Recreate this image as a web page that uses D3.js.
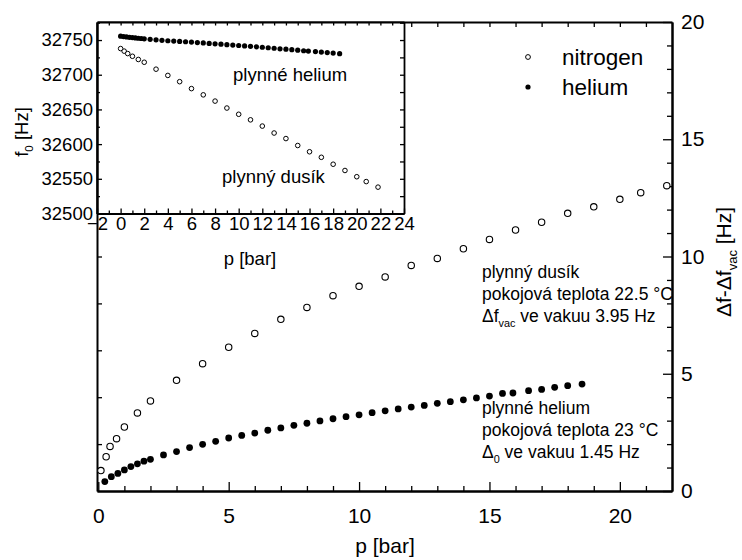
<!DOCTYPE html>
<html><head><meta charset="utf-8">
<script src="https://cdn.jsdelivr.net/npm/d3@7"></script>
<style>body{margin:0;background:#fff}svg{display:block}text{font-family:"Liberation Sans",Arial,sans-serif;fill:#000}</style>
</head><body>
<script>
// ---- data ----
const nitrogenP = [0.1,0.3,0.45,0.7,1,1.5,2,3,4,5,6,7,8,9,10,11,12,13,14,15,16,17,18,19,20,20.8,21.8];
const nitrogenDf = [0.87,1.46,1.9,2.23,2.73,3.33,3.84,4.72,5.43,6.13,6.72,7.32,7.83,8.33,8.73,9.13,9.62,9.92,10.33,10.73,11.13,11.46,11.84,12.12,12.44,12.72,13.02];
const heliumP = [0.25,0.5,0.75,1,1.25,1.5,1.75,2,2.5,3,3.5,4,4.5,5,5.5,6,6.5,7,7.5,8,8.5,9,9.5,10,10.5,11,11.5,12,12.5,13,13.5,14,14.5,15,15.5,15.9,16.5,17,17.5,18,18.55];
const heliumDf = [0.40,0.61,0.75,0.90,1.04,1.16,1.27,1.35,1.54,1.68,1.85,1.99,2.12,2.26,2.37,2.47,2.59,2.69,2.80,2.89,2.99,3.08,3.17,3.25,3.34,3.42,3.50,3.58,3.65,3.74,3.81,3.89,3.97,4.05,4.16,4.18,4.28,4.33,4.42,4.49,4.56];

const insetNitrogenP = [0,0.3,0.6,1,1.5,2,3,4,5,6,7,8,9,10,11,12,13,14,15,16,17,18,19,20,20.8,21.8];
const insetNitrogenF = [32737.7,32734,32730.5,32726.6,32722,32718,32708,32699,32690,32680,32671,32662,32652,32643,32635,32626,32616,32608,32598,32589,32581,32571,32562,32553,32546,32538];
const insetHeliumP = [0,0.25,0.5,0.75,1,1.25,1.5,1.75,2,2.5,3,3.5,4,4.5,5,5.5,6,6.5,7,7.5,8,8.5,9,9.5,10,10.5,11,11.5,12,12.5,13,13.5,14,14.5,15,15.5,15.9,16.5,17,17.5,18,18.55];
const insetHeliumF = [32755.6,32755.0,32754.5,32753.9,32753.5,32753.0,32752.6,32752.2,32751.8,32751.1,32750.3,32749.6,32749.0,32748.5,32748.0,32747.5,32747.0,32746.3,32745.8,32745.1,32744.6,32744.0,32743.3,32742.7,32742.1,32741.5,32740.9,32740.2,32739.6,32738.9,32738.2,32737.4,32736.8,32736.1,32735.4,32734.6,32734.1,32733.4,32732.6,32731.9,32731.2,32730.4];

const mainXTicks = [0,5,10,15,20];
const mainYTicks = [0,5,10,15,20];
const insetXTicks = [-2,0,2,4,6,8,10,12,14,16,18,20,22,24];
const insetYTicks = [32500,32550,32600,32650,32700,32750];
const legendLabels = ["nitrogen","helium"];

// ---- layout ----
const W = 742, H = 560;
const svg = d3.select("body").append("svg").attr("width", W).attr("height", H);
svg.append("rect").attr("width", W).attr("height", H).attr("fill", "#fff");

const M = {l:97, r:672, t:22, b:491};
const x = d3.scaleLinear().domain([-0.05, 22]).range([M.l, M.r]);
const y = d3.scaleLinear().domain([0, 20]).range([M.b, M.t]);

function styleAxis(g, w){
  g.select(".domain").attr("stroke","#000").attr("stroke-width", w);
  g.selectAll(".tick line").attr("stroke","#000").attr("stroke-width", 1.3);
}
const d3range = (a,b,s)=>d3.range(a,b+1e-9,s);

// main axes: minor ticks
const gm = svg.append("g");
gm.append("g").attr("transform",`translate(0,${M.b})`)
  .call(d3.axisBottom(x).tickValues(d3range(1,21,1).filter(v=>v%5)).tickSizeInner(-5).tickSizeOuter(0).tickFormat(""))
  .call(g=>styleAxis(g,2));
gm.append("g").attr("transform",`translate(0,${M.t})`)
  .call(d3.axisTop(x).tickValues(d3range(1,21,1)).tickSizeInner(-5).tickSizeOuter(0).tickFormat(""))
  .call(g=>styleAxis(g,2));
gm.append("g").attr("transform",`translate(${M.r},0)`)
  .call(d3.axisRight(y).tickValues(d3range(1,19,1).filter(v=>v%5)).tickSizeInner(-5).tickSizeOuter(0).tickFormat(""))
  .call(g=>styleAxis(g,2));
gm.append("g").attr("transform",`translate(${M.l},0)`)
  .call(d3.axisLeft(y).tickValues(d3range(2,18,2)).tickSizeInner(-5).tickSizeOuter(0).tickFormat(""))
  .call(g=>styleAxis(g,2));
// main axes: major ticks + labels
const xAx = gm.append("g").attr("transform",`translate(0,${M.b})`)
  .call(d3.axisBottom(x).tickValues(mainXTicks).tickSizeInner(-9).tickSizeOuter(0).tickPadding(17).tickFormat(d3.format("d")))
  .call(g=>styleAxis(g,2));
xAx.selectAll("text").attr("font-size",21).attr("dy","0.71em");
const yAx = gm.append("g").attr("transform",`translate(${M.r},0)`)
  .call(d3.axisRight(y).tickValues(mainYTicks).tickSizeInner(-9).tickSizeOuter(0).tickPadding(9).tickFormat(d3.format("d")))
  .call(g=>styleAxis(g,2));
yAx.selectAll("text").attr("font-size",21);
svg.selectAll(".domain").attr("fill","none");

// main labels
svg.append("text").attr("x",385).attr("y",553).attr("text-anchor","middle").attr("font-size",21).text("p [bar]");
const rl = svg.append("text").attr("transform","translate(731,262) rotate(-90)").attr("text-anchor","middle").attr("font-size",21);
rl.append("tspan").text("\u0394f-\u0394f");
rl.append("tspan").attr("font-size",13).attr("dy",6).text("vac");
rl.append("tspan").attr("dy",-6).text(" [Hz]");

// main data
svg.append("g").selectAll("circle").data(nitrogenP).join("circle")
  .attr("cx",(d)=>x(d)).attr("cy",(d,i)=>y(nitrogenDf[i])).attr("r",3.2)
  .attr("fill","#fff").attr("stroke","#000").attr("stroke-width",1.1);
svg.append("g").selectAll("circle").data(heliumP).join("circle")
  .attr("cx",(d)=>x(d)).attr("cy",(d,i)=>y(heliumDf[i])).attr("r",3.4).attr("fill","#000");

// legend
const lg = svg.append("g");
lg.append("circle").attr("cx",528).attr("cy",57).attr("r",2.4).attr("fill","#fff").attr("stroke","#000").attr("stroke-width",1);
lg.append("circle").attr("cx",528).attr("cy",87).attr("r",2.6).attr("fill","#000");
lg.append("text").attr("x",562).attr("y",65).attr("font-size",22.5).text(legendLabels[0]);
lg.append("text").attr("x",562).attr("y",95).attr("font-size",22.5).text(legendLabels[1]);

// main annotations
function annot(lines, x0, ys, fs){
  lines.forEach((ln,i)=>{
    const t = svg.append("text").attr("x",x0).attr("y",ys[i]).attr("font-size",fs);
    ln.forEach(part=>{
      const s = t.append("tspan").text(part.t);
      if(part.sub){ s.attr("font-size",fs*0.62).attr("dy",5); }
      else if(part.after){ s.attr("dy",-5); }
    });
  });
}
annot([[{t:"plynný dusík"}],[{t:"pokojová teplota 22.5 °C"}],[{t:"\u0394f"},{t:"vac",sub:true},{t:" ve vakuu 3.95 Hz",after:true}]], 482, [278,300,322], 17.5);
annot([[{t:"plynné helium"}],[{t:"pokojová teplota 23 °C"}],[{t:"\u0394"},{t:"0",sub:true},{t:" ve vakuu 1.45 Hz",after:true}]], 482, [414,436,458], 17.5);

// ---- inset ----
const I = {l:97, r:404, t:22, b:213.5};
const xi = d3.scaleLinear().domain([-2, 24]).range([I.l, I.r]);
const yi = d3.scaleLinear().domain([32500, 32776]).range([I.b, I.t]);
svg.append("rect").attr("x",I.l).attr("y",I.t).attr("width",I.r-I.l).attr("height",I.b-I.t).attr("fill","#fff");
const gi = svg.append("g");
gi.append("g").attr("transform",`translate(0,${I.b})`)
  .call(d3.axisBottom(xi).tickValues(d3range(-1,23,2)).tickSizeInner(-3).tickSizeOuter(0).tickFormat(""))
  .call(g=>styleAxis(g,1.8));
gi.append("g").attr("transform",`translate(0,${I.t})`)
  .call(d3.axisTop(xi).tickValues(d3range(-1,23,1)).tickSizeInner(-3.5).tickSizeOuter(0).tickFormat(""))
  .call(g=>styleAxis(g,2));
gi.append("g").attr("transform",`translate(${I.r},0)`)
  .call(d3.axisRight(yi).tickValues(d3range(32525,32775,25)).tickSizeInner(-4).tickSizeOuter(0).tickFormat(""))
  .call(g=>styleAxis(g,1.8));
gi.append("g").attr("transform",`translate(${I.l},0)`)
  .call(d3.axisLeft(yi).tickValues(d3range(32525,32775,50)).tickSizeInner(-3).tickSizeOuter(0).tickFormat(""))
  .call(g=>styleAxis(g,2));
const xiAx = gi.append("g").attr("transform",`translate(0,${I.b})`)
  .call(d3.axisBottom(xi).tickValues(insetXTicks).tickSizeInner(-5).tickSizeOuter(0).tickPadding(3).tickFormat(d3.format("d")))
  .call(g=>styleAxis(g,1.8));
xiAx.selectAll("text").attr("font-size",18.5).attr("dy","0.71em");
const yiAx = gi.append("g").attr("transform",`translate(${I.l},0)`)
  .call(d3.axisLeft(yi).tickValues(insetYTicks).tickSizeInner(-5).tickSizeOuter(0).tickPadding(4).tickFormat(d3.format("d")))
  .call(g=>styleAxis(g,2));
yiAx.selectAll("text").attr("font-size",18.5);
svg.selectAll(".domain").attr("fill","none");

svg.append("text").attr("x",250).attr("y",265).attr("text-anchor","middle").attr("font-size",18.5).text("p [bar]");
const il = svg.append("text").attr("transform","translate(28,132) rotate(-90)").attr("text-anchor","middle").attr("font-size",18.5);
il.append("tspan").text("f");
il.append("tspan").attr("font-size",11.5).attr("dy",5).text("0");
il.append("tspan").attr("dy",-5).text(" [Hz]");

svg.append("g").selectAll("circle").data(insetNitrogenP).join("circle")
  .attr("cx",d=>xi(d)).attr("cy",(d,i)=>yi(insetNitrogenF[i])).attr("r",2.3)
  .attr("fill","#fff").attr("stroke","#000").attr("stroke-width",1);
svg.append("g").selectAll("circle").data(insetHeliumP).join("circle")
  .attr("cx",d=>xi(d)).attr("cy",(d,i)=>yi(insetHeliumF[i])).attr("r",2.6).attr("fill","#000");

svg.append("text").attr("x",233).attr("y",81).attr("font-size",18.5).text("plynné helium");
svg.append("text").attr("x",222).attr("y",183).attr("font-size",18.5).text("plynný dusík");
</script>
</body></html>
